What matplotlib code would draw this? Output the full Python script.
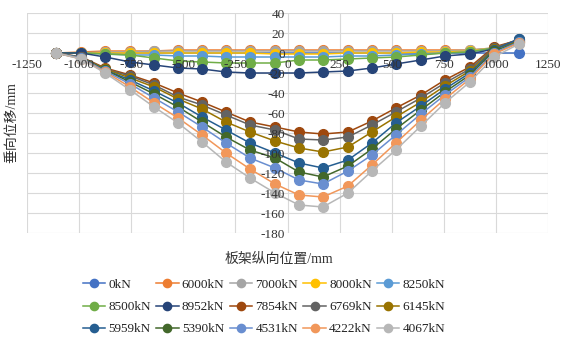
import matplotlib
matplotlib.use('Agg')
import matplotlib.pyplot as plt

plt.rcParams['font.family'] = ['Liberation Serif', 'Noto Sans CJK SC', 'DejaVu Sans']
plt.rcParams['axes.unicode_minus'] = False

# 板架纵向位置 (mm)
pos = [-1110, -990, -875, -755, -640, -525, -410, -295, -180, -60,
       55, 170, 290, 405, 520, 640, 755, 875, 990, 1110]

# 加载
d_0 = [0] * 20
d_6000 = [0, 1, 2, 2, 2, 3, 3, 3, 3, 3, 3, 3, 3, 3, 3, 3, 3, 3, 5, 10]
d_7000 = [0, 0, 1, 1, 2, 2, 2, 2, 2, 2, 2, 2, 2, 2, 2, 2, 2, 3, 5, 11]
d_8000 = [0, 0, 0, 0, 0, 0, 0, 0, 0, -1, -1, -1, 0, 0, 0, 1, 1, 2, 5, 11]
d_8250 = [0, 0, -1, -2, -2, -3, -3, -4, -4, -4, -4, -4, -3, -3, -2, -1, 0, 1, 5, 12]
d_8500 = [0, 0, -1, -2, -5, -8, -9, -10, -10, -10, -7, -7, -6, -5, -4, -2, 0, 1, 5, 12]
d_8952 = [0, 0, -4, -9, -12, -15, -16, -19, -20, -20, -20, -19, -18, -15, -11, -7, -3, -1, 4, 14]
# 卸载
d_7854 = [0, -4, -15, -22, -30, -40, -49, -59, -69, -74, -79, -81, -79, -68, -55, -42, -27, -14, 6, 13]
d_6769 = [0, -4, -16, -23, -32, -44, -52, -62, -72, -77, -86, -87, -84, -72, -59, -45, -30, -16, 5, 13]
d_6145 = [0, -5, -16, -25, -34, -46, -56, -69, -79, -88, -95, -99, -94, -79, -64, -49, -33, -18, 4, 12]
d_5959 = [0, -5, -17, -27, -38, -50, -64, -77, -90, -100, -110, -115, -107, -90, -70, -53, -36, -20, 3, 14]
d_5390 = [0, -5, -17, -29, -41, -54, -69, -84, -97, -105, -119, -124, -113, -96, -76, -57, -39, -22, 2, 11]
d_4531 = [0, -5, -18, -31, -45, -59, -74, -90, -105, -115, -127, -131, -118, -102, -82, -61, -42, -24, 0, 11]
d_4222 = [0, -6, -19, -34, -50, -65, -82, -100, -116, -131, -142, -144, -133, -112, -90, -67, -46, -26, -1, 10]
d_4067 = [0, -6, -20, -37, -54, -70, -89, -109, -125, -140, -152, -154, -140, -118, -97, -73, -50, -29, -4, 9]

labels = ['0kN', '6000kN', '7000kN', '8000kN', '8250kN',
          '8500kN', '8952kN', '7854kN', '6769kN', '6145kN',
          '5959kN', '5390kN', '4531kN', '4222kN', '4067kN']
colors = ['#4472C4', '#ED7D31', '#A5A5A5', '#FFC000', '#5B9BD5',
          '#70AD47', '#264478', '#9E480E', '#636363', '#997300',
          '#255E91', '#43682B', '#698ED0', '#F1975A', '#B7B7B7']
series = [d_0, d_6000, d_7000, d_8000, d_8250, d_8500, d_8952,
          d_7854, d_6769, d_6145, d_5959, d_5390, d_4531, d_4222, d_4067]

xticks = list(range(-1250, 1251, 250))
yticks = list(range(-180, 41, 20))

fig = plt.figure(figsize=(5.65, 3.45), dpi=100)
ax = fig.add_axes([27 / 565, 1 - 233 / 345, 521 / 565, 220 / 345])

# 网格线
for t in xticks:
    ax.axvline(t, color='#D9D9D9', lw=0.8, zorder=0)
for t in yticks:
    ax.axhline(t, color='#D9D9D9', lw=0.8, zorder=0)

handles = []
for y, lab, c in zip(series, labels, colors):
    h, = ax.plot(pos, y, '-o', color=c, lw=1.1, ms=7, mec=c, label=lab, zorder=2)
    handles.append(h)

ax.set_xlim(-1250, 1250)
ax.set_ylim(-180, 40)
ax.set_xticks(xticks)
ax.set_yticks(yticks)
ax.spines['bottom'].set_position(('data', 0))
ax.spines['left'].set_position(('data', 0))
for s in ax.spines.values():
    s.set_visible(False)
ax.set_axisbelow(False)
ax.tick_params(axis='x', length=0, pad=4, labelsize=9.5, labelcolor='#333333')
ax.tick_params(axis='y', length=0, pad=2, labelsize=9.5, labelcolor='#333333')

ax.set_ylabel('垂向位移/mm', fontsize=10, color='#333333')
ax.yaxis.label.set_va('center')
ax.yaxis.set_label_coords(-15 / 521, 0.5)
fig.text(279 / 565, 1 - 259 / 345, '板架纵向位置/mm', fontsize=10,
         color='#333333', ha='center', va='center')

# 图例按行排列
order = [r * 5 + c for c in range(5) for r in range(3)]
fig.legend([handles[i] for i in order], [labels[i] for i in order],
           loc='center', bbox_to_anchor=(264 / 565, 1 - 307 / 345), ncol=5,
           frameon=False, fontsize=9.5, handlelength=1.7, handletextpad=0.25,
           columnspacing=0.4, labelspacing=0.75, markerscale=0.85,
           labelcolor='#222222')

fig.savefig('out.png', dpi=100)
